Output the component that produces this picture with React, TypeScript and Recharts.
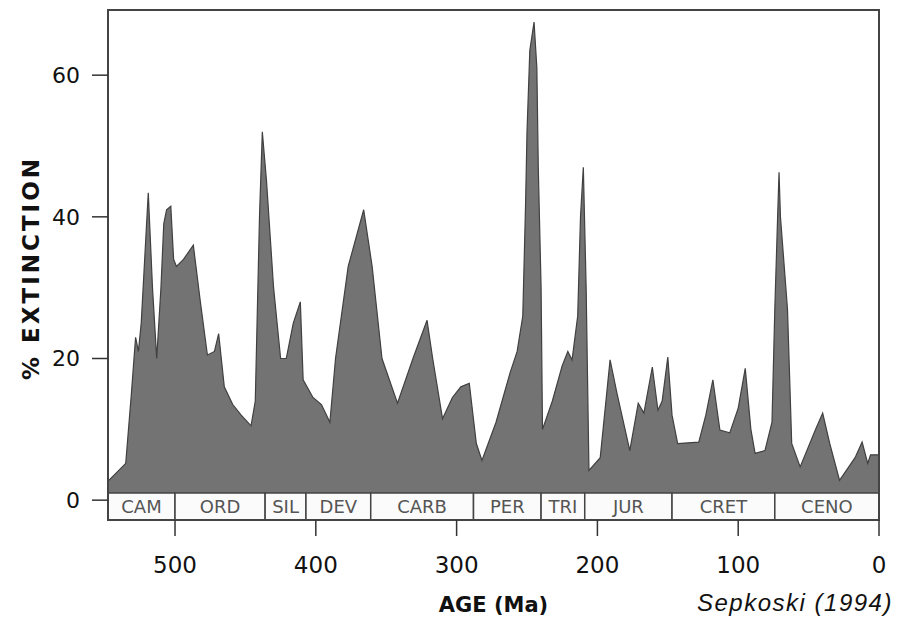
import { AreaChart, Area, XAxis, YAxis, ReferenceArea, Label } from "recharts";

// age (Ma), oldest first
const ages = [
  547, 535, 531, 528, 526, 524, 519, 516, 513, 510, 508, 506, 503, 501, 499, 494, 487,
  482, 477, 472, 469, 465, 459, 453, 446, 443, 440, 438, 435, 430, 425, 421, 416,
  411, 409, 402, 396, 390, 386, 377, 366, 360, 353, 342, 331, 321, 317, 310, 303,
  297, 291, 286, 282, 272, 262, 257, 253, 251, 250, 248, 245, 243, 242, 240, 239,
  232, 225, 221, 218, 214, 212, 210, 208, 206, 198, 191, 186, 177, 171, 167, 161,
  157, 154, 150, 147, 143, 128, 123, 118, 113, 106, 100, 95, 91, 88, 81, 76,
  74, 72, 71, 70, 65, 62, 56, 45, 40, 35, 28, 17, 12, 8, 6, 0,
];

// % extinction of genera
const extinction = [
  2.8, 5.2, 15, 23, 21, 25, 43.4, 30, 20, 30, 39, 41, 41.5, 34, 33, 34, 36,
  28, 20.5, 21, 23.5, 16, 13.5, 12, 10.5, 14, 40, 52, 45, 30, 20, 20, 25,
  28, 17, 14.5, 13.5, 11, 20, 33, 41, 33, 20, 13.7, 20, 25.4, 20, 11.5, 14.5,
  16, 16.5, 8, 5.6, 11, 18, 21, 26, 42, 52, 63.5, 67.5, 61, 47, 30, 10,
  14, 19, 21, 19.8, 26, 40, 47, 30, 4.2, 6, 19.8, 15, 7, 13.7, 12.3, 18.8,
  12.7, 14, 20.2, 12, 8, 8.2, 12, 17, 9.9, 9.5, 13, 18.6, 10, 6.6, 7, 11,
  27, 40, 46.3, 40, 27, 8, 4.7, 10, 12.3, 8, 2.8, 6, 8.2, 5.2, 6.4, 6.4,
];

const periodNames = ["CAM", "ORD", "SIL", "DEV", "CARB", "PER", "TRI", "JUR", "CRET", "CENO"];
const periodStart = [547.6, 500, 436, 407, 361, 288, 240, 209, 147, 74];
const periodEnd = [500, 436, 407, 361, 288, 240, 209, 147, 74, 0];

const ageTicks = [500, 400, 300, 200, 100, 0];
const pctTicks = [0, 20, 40, 60];

const AGE_MAX = 547.6;
const Y_MIN = -2.8;
const Y_MAX = 69.2;
const BAND_TOP = 1.0;

const data = ages.map((a, i) => ({ age: a, pct: extinction[i] }));

const font = "'DejaVu Sans', sans-serif";

export default function App() {
  return (
    <div style={{ position: "absolute", left: 0, top: 0, background: "#fff" }}>
      <AreaChart
        width={913}
        height={622}
        data={data}
        margin={{ top: 10, right: 34, bottom: 42, left: 0 }}
      >
        <XAxis
          dataKey="age"
          type="number"
          domain={[0, AGE_MAX]}
          allowDataOverflow
          reversed
          ticks={ageTicks}
          interval={0}
          height={60}
          axisLine={false}
          tickSize={16}
          tickMargin={21}
          tickLine={{ stroke: "#333", strokeWidth: 1.5 }}
          tick={{ fill: "#111", fontSize: 23, fontFamily: font }}
        >
          <Label
            content={({ viewBox }: any) => (
              <text
                x={viewBox.x + viewBox.width / 2}
                y={viewBox.y + viewBox.height + 32}
                textAnchor="middle"
                fontFamily={font}
                fontWeight="bold"
                fontSize={21}
                fill="#111"
              >
                AGE (Ma)
              </text>
            )}
          />
          <Label
            content={({ viewBox }: any) => (
              <text
                x={viewBox.x + viewBox.width - 182}
                y={viewBox.y + viewBox.height + 31}
                fontFamily="'Liberation Sans', sans-serif"
                fontStyle="italic"
                fontSize={24}
                letterSpacing={1.5}
                fill="#111"
              >
                Sepkoski (1994)
              </text>
            )}
          />
        </XAxis>
        <YAxis
          type="number"
          domain={[Y_MIN, Y_MAX]}
          allowDataOverflow
          ticks={pctTicks}
          interval={0}
          width={108}
          axisLine={false}
          tickSize={16}
          tickMargin={12}
          tickLine={{ stroke: "#333", strokeWidth: 1.5 }}
          tick={{ fill: "#111", fontSize: 22, fontFamily: font }}
        >
          <Label
            content={({ viewBox }: any) => {
              const cx = viewBox.x + 31;
              const cy = viewBox.y + viewBox.height / 2 + 3;
              return (
                <text
                  x={cx}
                  y={cy}
                  transform={`rotate(-90, ${cx}, ${cy})`}
                  textAnchor="middle"
                  dominantBaseline="central"
                  fontFamily={font}
                  fontWeight="bold"
                  fontSize={23}
                  letterSpacing={3}
                  fill="#111"
                >
                  % EXTINCTION
                </text>
              );
            }}
          />
        </YAxis>
        <Area
          type="linear"
          dataKey="pct"
          baseValue={BAND_TOP}
          stroke="#404040"
          strokeWidth={1.2}
          fill="#737373"
          fillOpacity={1}
          isAnimationActive={false}
        />
        {periodNames.map((name, i) => (
          <ReferenceArea
            key={name}
            x1={periodStart[i]}
            x2={periodEnd[i]}
            y1={Y_MIN}
            y2={BAND_TOP}
            fill="#fbfbfb"
            fillOpacity={1}
            stroke="#444"
            strokeWidth={1.5}
            label={{
              value: name,
              position: "center",
              fill: "#555",
              fontSize: 18,
              fontFamily: font,
            }}
          />
        ))}
        <ReferenceArea
          x1={0}
          x2={AGE_MAX}
          y1={Y_MIN}
          y2={Y_MAX}
          fill="none"
          stroke="#444"
          strokeWidth={2}
        />
      </AreaChart>
    </div>
  );
}
